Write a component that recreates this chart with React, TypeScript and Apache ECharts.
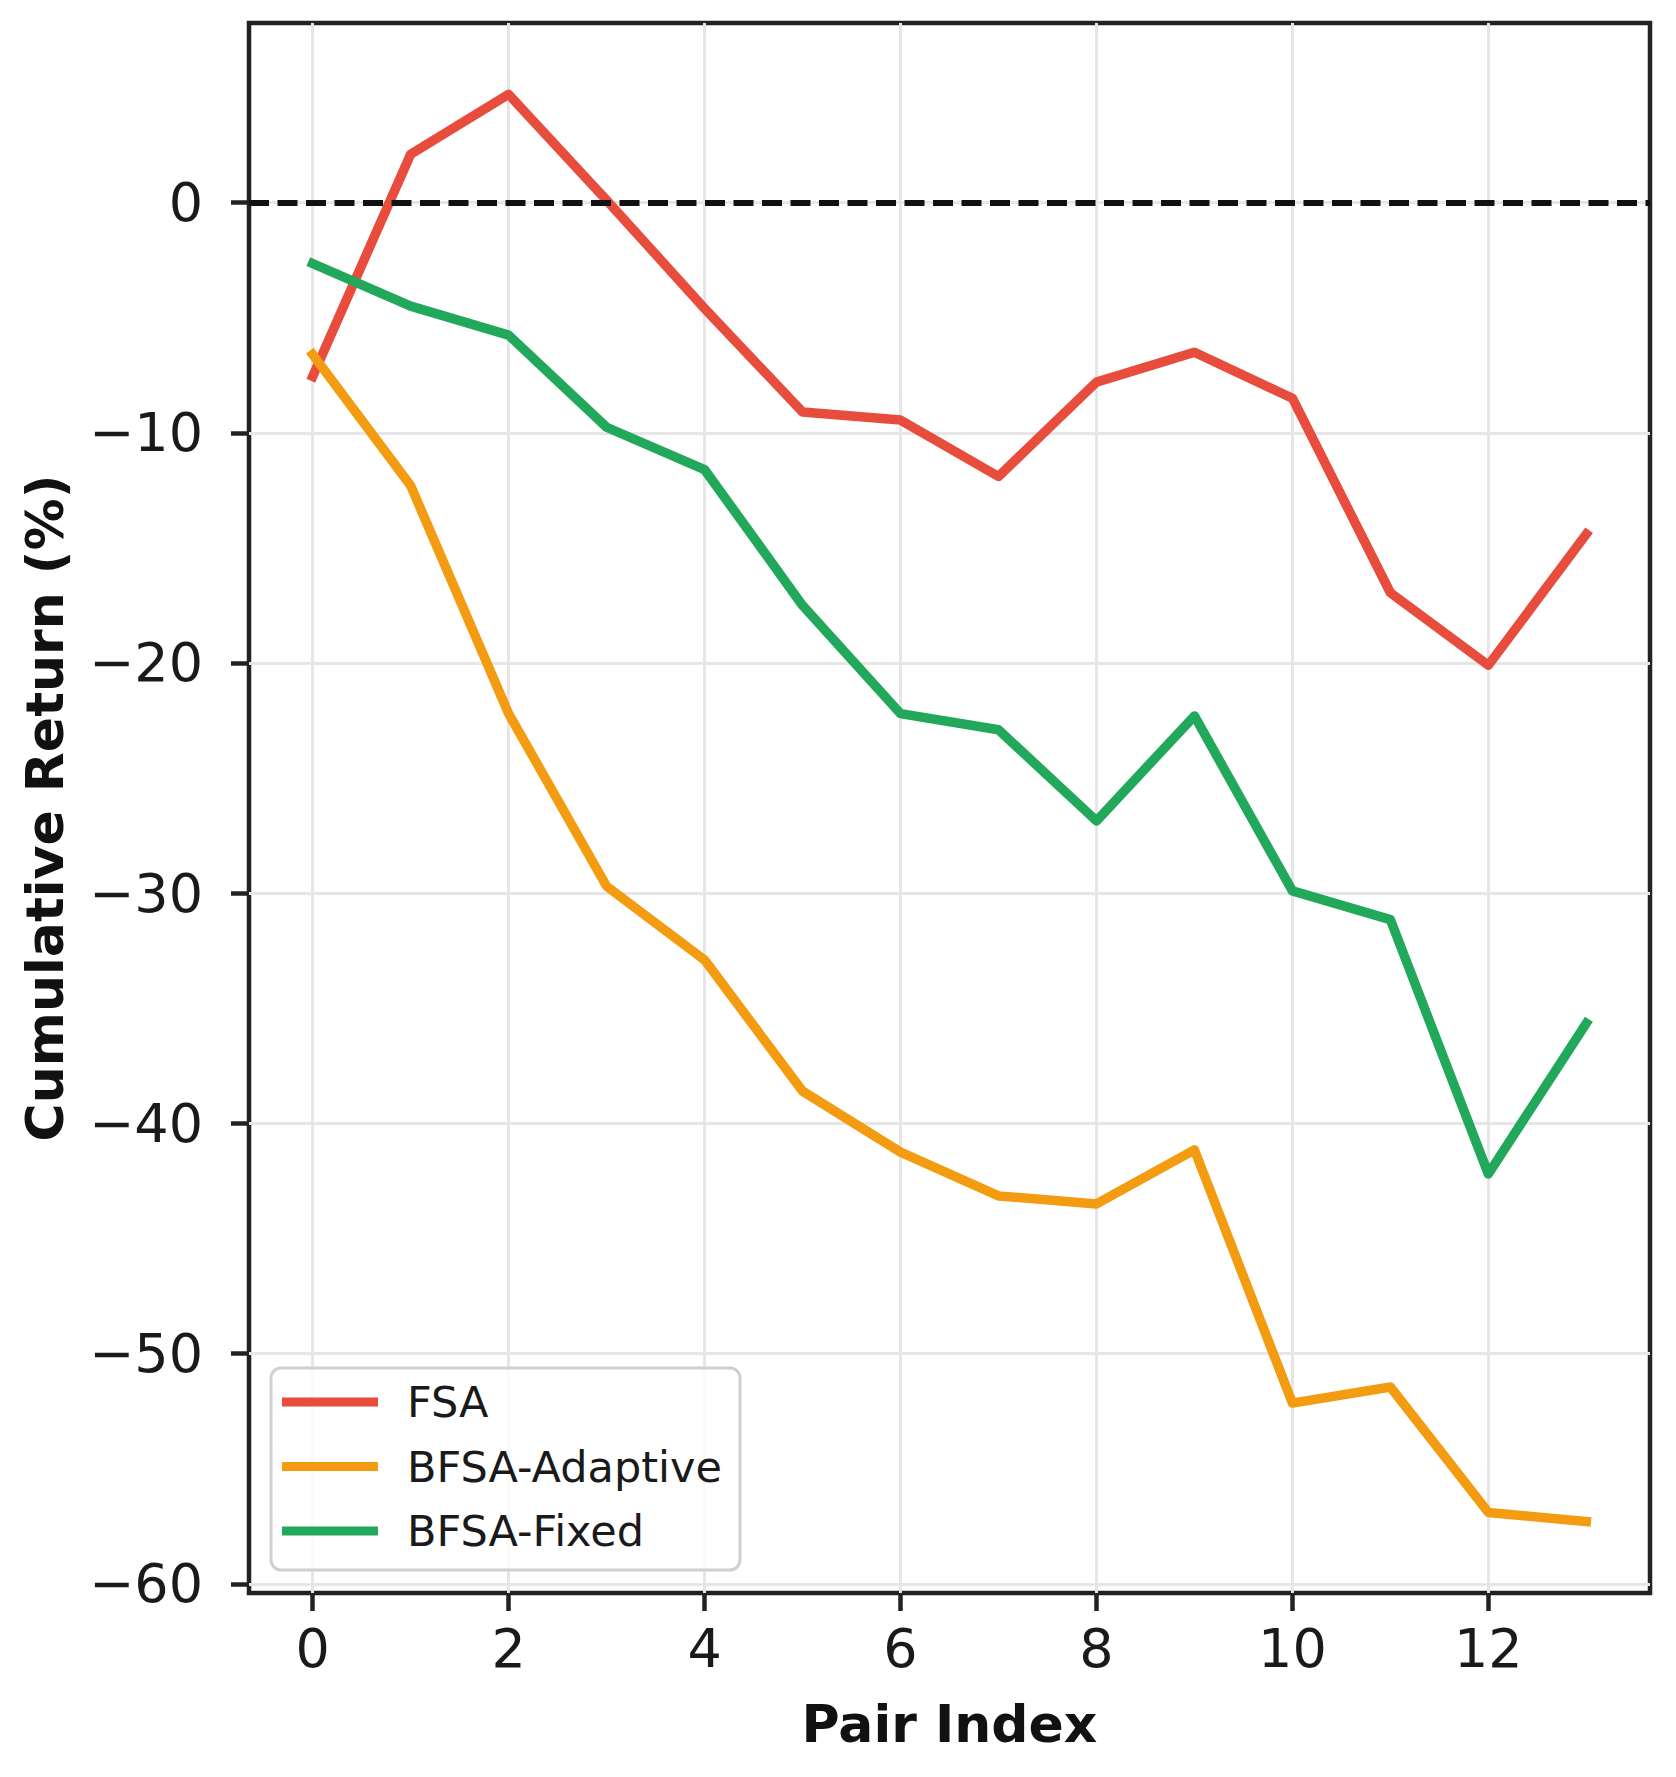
import React, { useEffect, useRef } from "react";
import * as echarts from "echarts";

const pairIndex = [0, 1, 2, 3, 4, 5, 6, 7, 8, 9, 10, 11, 12, 13];
const fsa = [-7.55, 2.1, 4.7, 0.1, -4.6, -9.1, -9.45, -11.9, -7.8, -6.5, -8.5, -16.95, -20.1, -14.4];
const bfsaAdaptive = [-6.6, -12.3, -22.2, -29.7, -32.9, -38.6, -41.25, -43.15, -43.5, -41.15, -52.15, -51.45, -56.9, -57.3];
const bfsaFixed = [-2.65, -4.5, -5.76, -9.76, -11.6, -17.5, -22.2, -22.9, -26.86, -22.3, -29.9, -31.15, -42.2, -35.65];

const seriesNames = ["FSA", "BFSA-Adaptive", "BFSA-Fixed"];
const seriesColors = ["#e74c3c", "#f39c12", "#22a85a"];
const seriesValues = [fsa, bfsaAdaptive, bfsaFixed];

const xTicks = [0, 2, 4, 6, 8, 10, 12];
const yTicks = [-60, -50, -40, -30, -20, -10, 0];

const FONT = "'DejaVu Sans', 'Liberation Sans', sans-serif";

const fmt = (v: number) => (v < 0 ? "\u2212" + Math.abs(v) : String(v));

export default function App() {
  const ref = useRef<HTMLDivElement>(null);

  useEffect(() => {
    document.body.style.margin = "0";
    if (!ref.current) return;
    const chart = echarts.init(ref.current, undefined, { renderer: "svg" });

    const last = seriesNames.length - 1;
    const series: any[] = seriesNames.map((name, i) => ({
      name,
      type: "line",
      data: pairIndex.map((x, j) => [x, seriesValues[i][j]]),
      showSymbol: false,
      symbol: "none",
      color: seriesColors[i],
      lineStyle: { color: seriesColors[i], width: 9.5, join: "round", cap: "square" },
      emphasis: { disabled: true },
      silent: true,
      ...(i === last
        ? {
            markLine: {
              silent: true,
              z: 10,
              symbol: ["none", "none"],
              label: { show: false },
              lineStyle: { color: "#111111", width: 6, type: [20, 8.5] },
              emphasis: { disabled: true },
              data: [{ yAxis: 0 }],
            },
          }
        : {}),
    }));

    chart.setOption({
      animation: false,
      backgroundColor: "#ffffff",
      grid: {
        left: 249,
        right: 26,
        top: 23,
        bottom: 184,
        show: true,
        borderColor: "#222222",
        borderWidth: 4.5,
        backgroundColor: "transparent",
      },
      xAxis: {
        type: "value",
        min: -0.65,
        max: 13.65,
        axisLine: { show: false, onZero: false },
        axisTick: {
          show: true,
          inside: false,
          length: 18,
          lineStyle: { color: "#222222", width: 4.5 },
          customValues: xTicks,
        },
        axisLabel: {
          customValues: xTicks,
          fontSize: 54,
          color: "#1a1a1a",
          fontFamily: FONT,
          margin: 28,
          formatter: fmt,
        },
        splitLine: { show: true, lineStyle: { color: "#e6e6e6", width: 3 } },
        name: "Pair Index",
        nameLocation: "middle",
        nameGap: 105,
        nameTextStyle: { fontSize: 52, fontWeight: "bold", color: "#111111", fontFamily: FONT },
      },
      yAxis: {
        type: "value",
        min: -60.4,
        max: 7.8,
        axisLine: { show: false, onZero: false },
        axisTick: {
          show: true,
          inside: false,
          length: 18,
          lineStyle: { color: "#222222", width: 4.5 },
          customValues: yTicks,
        },
        axisLabel: {
          customValues: yTicks,
          fontSize: 54,
          color: "#1a1a1a",
          fontFamily: FONT,
          margin: 46,
          formatter: fmt,
        },
        splitLine: { show: true, lineStyle: { color: "#e6e6e6", width: 3 } },
        name: "Cumulative Return (%)",
        nameLocation: "middle",
        nameGap: 178,
        nameTextStyle: { fontSize: 52, fontWeight: "bold", color: "#111111", fontFamily: FONT },
      },
      legend: {
        show: true,
        orient: "vertical",
        left: 282,
        top: 1377,
        padding: 0,
        icon: "rect",
        itemWidth: 96,
        itemHeight: 9,
        itemGap: 14.5,
        selectedMode: false,
        data: seriesNames,
        textStyle: {
          fontSize: 43,
          fontFamily: FONT,
          color: "#1a1a1a",
          lineHeight: 50,
          padding: [0, 0, 0, 24],
        },
      },
      graphic: [
        {
          type: "rect",
          z: 3,
          silent: true,
          shape: { x: 271, y: 1368, width: 469, height: 202, r: 10 },
          style: { fill: "rgba(255,255,255,0.8)", stroke: "#d0d0d0", lineWidth: 3 },
        },
      ],
      series,
    });

    return () => chart.dispose();
  }, []);

  return <div ref={ref} style={{ width: "1676px", height: "1777px" }} />;
}
